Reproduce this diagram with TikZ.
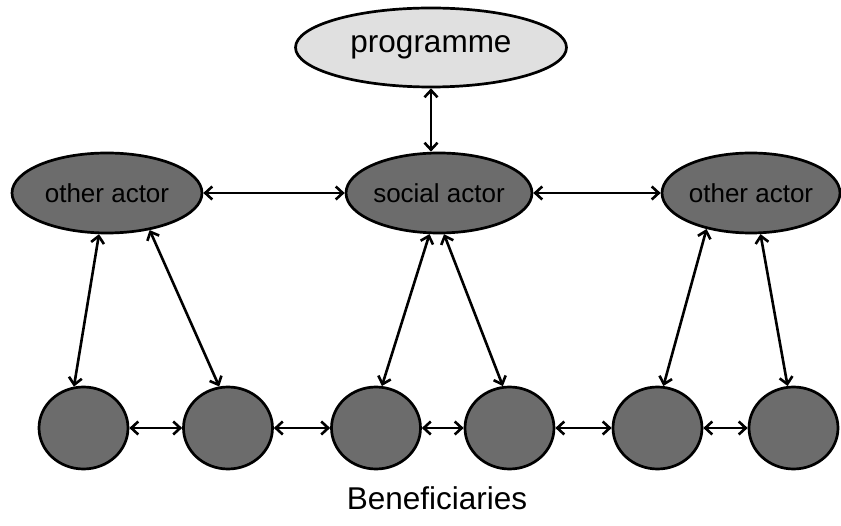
\documentclass[tikz,border=0pt]{standalone}
\usepackage{fontspec}
\setmainfont{Liberation Sans}
\usetikzlibrary{shapes.geometric,arrows.meta}
\definecolor{darkfill}{RGB}{108,108,108}
\definecolor{lightfill}{RGB}{224,224,224}
\begin{document}
\begin{tikzpicture}[x=1pt,y=1pt,
  actor/.style={ellipse,draw=black,line width=2.7pt,fill=darkfill,inner sep=0pt,
    minimum height=80pt,font=\fontsize{26}{30}\selectfont},
  benef/.style={ellipse,draw=black,line width=2.7pt,fill=darkfill,inner sep=0pt,
    minimum width=89pt,minimum height=82pt},
  link/.style={line width=2.6pt,{Straight Barb[length=7pt,width=13pt,line width=2.6pt]}-{Straight Barb[length=7pt,width=13pt,line width=2.6pt]}}
]
\useasboundingbox (0,0) rectangle (841,525);
\node[ellipse,draw=black,line width=2.7pt,fill=lightfill,inner sep=0pt,
  minimum width=271pt,minimum height=79pt,font=\fontsize{31.5}{36}\selectfont]
  (prog) at (431,477.5) {programme};
\node[actor,minimum width=190pt] (oa1) at (107,332) {other actor};
\node[actor,minimum width=182pt] (sa) at (439,332) {social actor};
\node[actor,minimum width=178pt] (oa2) at (751,332) {other actor};
\node[benef] (b1) at (83.5,97) {};
\node[benef] (b2) at (228,97) {};
\node[benef] (b3) at (376,97) {};
\node[benef] (b4) at (509.5,97) {};
\node[benef] (b5) at (657.5,97) {};
\node[benef] (b6) at (793.5,97) {};
\node[font=\fontsize{31.5}{36}\selectfont] (lab) at (437,27) {Beneficiaries};
% top links
\draw[link] (prog.south) -- (prog.south |- sa.north);
\draw[link] (oa1.east) -- (sa.west);
\draw[link] (sa.east) -- (oa2.west);
% actors to beneficiaries
\draw[link] (oa1.259) -- (b1.103);
\draw[link] (oa1.319) -- (b2.102);
\draw[link] (sa.257) -- (b3.82);
\draw[link] (sa.277) -- (b4.99);
\draw[link] (oa2.219) -- (b5.82);
\draw[link] (oa2.283) -- (b6.98);
% beneficiaries chain
\draw[link] (b1.east) -- (b2.west);
\draw[link] (b2.east) -- (b3.west);
\draw[link] (b3.east) -- (b4.west);
\draw[link] (b4.east) -- (b5.west);
\draw[link] (b5.east) -- (b6.west);
\end{tikzpicture}
\end{document}
